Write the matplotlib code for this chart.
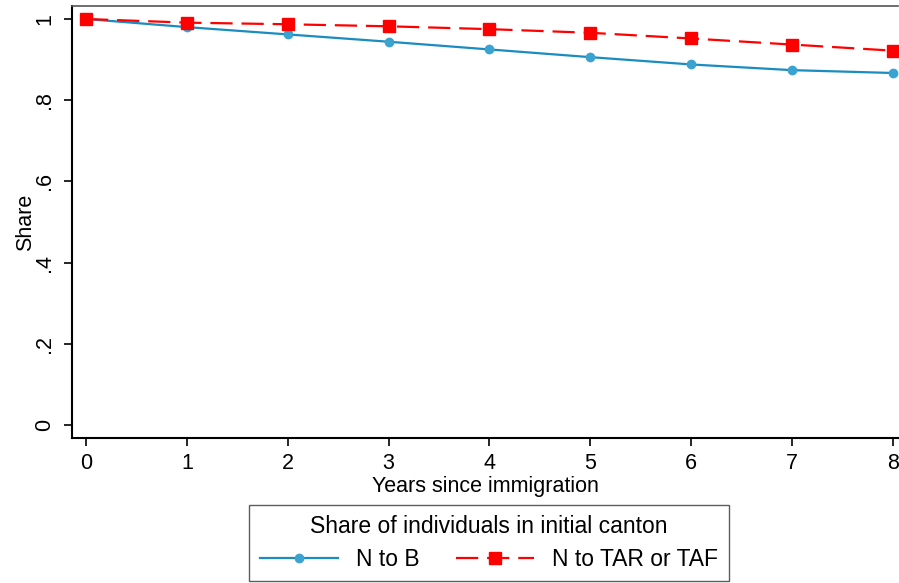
import matplotlib
matplotlib.use("Agg")
import matplotlib.pyplot as plt

years = [0, 1, 2, 3, 4, 5, 6, 7, 8]
share_n_to_b = [1.0, 0.980, 0.962, 0.944, 0.925, 0.906, 0.888, 0.874, 0.867]
share_n_to_tar = [1.0, 0.991, 0.987, 0.982, 0.975, 0.966, 0.952, 0.937, 0.922]
yticks = [0, 0.2, 0.4, 0.6, 0.8, 1.0]
ytick_labels = ["0", ".2", ".4", ".6", ".8", "1"]

plt.rcParams['font.family'] = ['Liberation Sans', 'DejaVu Sans']

fig = plt.figure(figsize=(8.99, 5.83), dpi=100)
W, H = 899, 583
ax = fig.add_axes([72 / W, 1 - 438 / H, (898 - 72) / W, (438 - 6) / H])

ax.plot(years, share_n_to_b, color='#1a8cc0', lw=1.6, marker='o', ms=6,
        mfc='#3aa3cf', mec='#3aa3cf', label='N to B', zorder=3)
ax.plot(years, share_n_to_tar, color='#ff0000', lw=1.6, ls=(0, (10, 4)), marker='s', ms=9,
        mfc='#ff0000', mec='#ff0000', label='N to TAR or TAF', zorder=4)

ax.set_xlim(-0.139, 8.05)
ax.set_ylim(-0.032, 1.032)
ax.set_xticks(years)
ax.set_yticks(yticks)
ax.set_yticklabels(ytick_labels, rotation=90, va='center')
ax.tick_params(axis='both', labelsize=15.5, length=6, width=1.2, colors='black')
ax.tick_params(axis='y', pad=6)
ax.tick_params(axis='x', pad=5)
ax.set_xlabel('Years since immigration', fontsize=15.5, labelpad=1)
ax.set_ylabel('Share', fontsize=15.5, labelpad=-1)

for s in ['left', 'bottom']:
    ax.spines[s].set_linewidth(1.5)
    ax.spines[s].set_color('black')
ax.spines['top'].set_color('#555555')
ax.spines['top'].set_linewidth(1.2)
ax.spines['right'].set_visible(False)

leg = fig.legend(loc='center', bbox_to_anchor=(489 / W, 1 - 543 / H), ncol=2,
                 title='Share of individuals in initial canton', fontsize=16.5,
                 title_fontsize=16.5, frameon=True, fancybox=False,
                 edgecolor='#333333', handlelength=3.4, columnspacing=1.6,
                 borderpad=0.45, handletextpad=0.8, labelspacing=0.45)
leg.get_frame().set_linewidth(1.0)

fig.savefig('out.png', dpi=100)
